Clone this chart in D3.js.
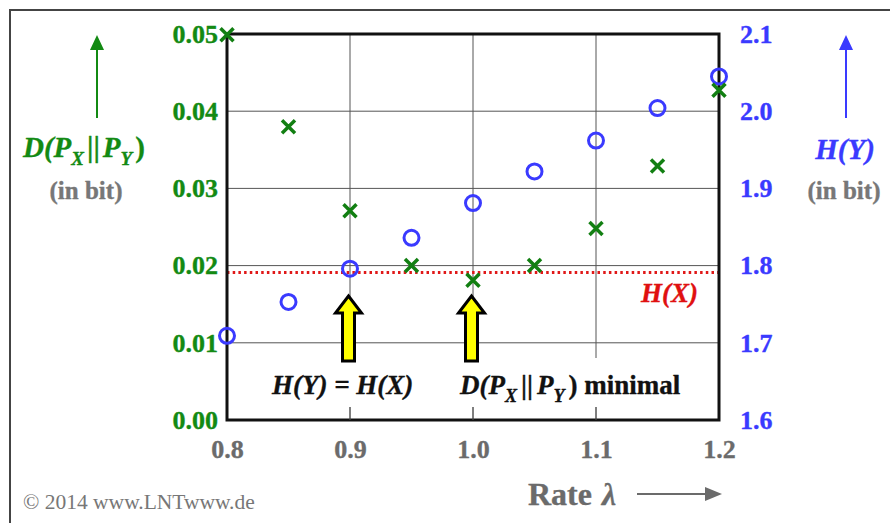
<!DOCTYPE html>
<html><head><meta charset="utf-8">
<script src="https://cdn.jsdelivr.net/npm/d3@7"></script>
<style>body{margin:0;background:#fff}svg{display:block}text{font-family:"Liberation Serif","Times New Roman",serif;font-weight:bold}</style>
</head><body><svg id="c" width="890" height="523"></svg>
<script>
const rates = [0.8, 0.85, 0.9, 0.95, 1.0, 1.05, 1.1, 1.15, 1.2];
const entropyY = [1.709, 1.753, 1.796, 1.836, 1.881, 1.922, 1.962, 2.004, 2.045];
const divergence = [0.0499, 0.038, 0.0271, 0.0200, 0.0181, 0.0200, 0.0248, 0.0329, 0.0427];
const entropyX = 1.791;
const xTicks = [0.8, 0.9, 1.0, 1.1, 1.2];
const leftTicks = [0, 0.01, 0.02, 0.03, 0.04, 0.05];
const rightTicks = [1.6, 1.7, 1.8, 1.9, 2.0, 2.1];
const arrowRates = [0.9, 1.0];

const svg = d3.select("#c");
const L = 227, R = 719, T = 34, B = 420;
const x = d3.scaleLinear().domain([0.8, 1.2]).range([L, R]);
const yL = d3.scaleLinear().domain([0, 0.05]).range([B, T]);
const yR = d3.scaleLinear().domain([1.6, 2.1]).range([B, T]);

const green = "#138a13", blue = "#3a3aff", gray = "#6b6b6b";
const bold = (sel, col, w) => sel.attr("fill", col).attr("stroke", col).attr("stroke-width", w || 0.35).attr("stroke-linejoin", "round");

// outer frame
svg.append("rect").attr("x", 10).attr("y", 10).attr("width", 900).attr("height", 540)
  .attr("fill", "none").attr("stroke", "#444").attr("stroke-width", 2);

// gridlines
const grid = svg.append("g").attr("stroke", "#555").attr("stroke-width", 1);
grid.selectAll(".gx").data(xTicks.slice(1, -1)).join("line")
  .attr("x1", d => x(d)).attr("x2", d => x(d)).attr("y1", T).attr("y2", B);
grid.selectAll(".gy").data(leftTicks.slice(1, -1)).join("line")
  .attr("y1", d => yL(d)).attr("y2", d => yL(d)).attr("x1", L).attr("x2", R);

// white band behind annotation
svg.append("rect").attr("x", L + 2).attr("y", 358).attr("width", R - L - 4).attr("height", 49).attr("fill", "#fff");

// H(X) dotted line
svg.append("line").attr("x1", L).attr("x2", R).attr("y1", yR(entropyX)).attr("y2", yR(entropyX))
  .attr("stroke", "#e01818").attr("stroke-width", 3).attr("stroke-dasharray", "2.5,3.2");

// plot border
svg.append("rect").attr("x", L).attr("y", T).attr("width", R - L).attr("height", B - T)
  .attr("fill", "none").attr("stroke", "#111").attr("stroke-width", 3);

// axes labels
const fs = 26;
const axL = svg.append("g").attr("transform", `translate(${L},0)`)
  .call(d3.axisLeft(yL).tickValues(leftTicks).tickSize(0).tickPadding(9).tickFormat(d3.format(".2f")));
const axR = svg.append("g").attr("transform", `translate(${R},0)`)
  .call(d3.axisRight(yR).tickValues(rightTicks).tickSize(0).tickPadding(21).tickFormat(d3.format(".1f")));
const axB = svg.append("g").attr("transform", `translate(0,${B})`)
  .call(d3.axisBottom(x).tickValues(xTicks).tickSize(0).tickPadding(20).tickFormat(d3.format(".1f")));
[axL, axR, axB].forEach(a => { a.select(".domain").remove(); a.selectAll("text").style("font-size", fs + "px").style("font-family", "Liberation Serif").style("font-weight", "bold"); });
bold(axL.selectAll("text"), green);
bold(axR.selectAll("text"), blue);
bold(axB.selectAll("text"), gray);

// circles H(Y)
svg.append("g").selectAll("circle").data(rates).join("circle")
  .attr("cx", d => x(d)).attr("cy", (d, i) => yR(entropyY[i])).attr("r", 7.5)
  .attr("fill", "none").attr("stroke", blue).attr("stroke-width", 3);

// crosses D
const cs = 6.5;
svg.append("g").selectAll("path").data(rates).join("path")
  .attr("d", (d, i) => { const cx = x(d), cy = yL(divergence[i]); return `M${cx-cs},${cy-cs}L${cx+cs},${cy+cs}M${cx-cs},${cy+cs}L${cx+cs},${cy-cs}`; })
  .attr("stroke", "#127f12").attr("stroke-width", 3.5).attr("fill", "none");

// yellow arrows
svg.append("g").selectAll("path").data(arrowRates).join("path")
  .attr("d", d => { const c = x(d) - 1.5; return `M${c},296L${c+13},313L${c+6},313L${c+6},361L${c-6},361L${c-6},313L${c-13},313Z`; })
  .attr("fill", "#ffff00").attr("stroke", "#000").attr("stroke-width", 3).attr("stroke-linejoin", "miter");

// tick stubs at bottom
svg.append("g").attr("stroke", "#555").selectAll("line").data(xTicks.slice(1, -1)).join("line")
  .attr("x1", d => x(d)).attr("x2", d => x(d)).attr("y1", 407).attr("y2", B);

// annotation texts
const ann = svg.append("g").style("font-size", "27px");
bold(ann.append("text").attr("x", 272).attr("y", 394).style("font-style", "italic").text("H(Y) = H(X)"), "#111");
const t2 = bold(ann.append("text").attr("x", 460).attr("y", 394), "#111");
t2.append("tspan").style("font-style", "italic").text("D(P");
t2.append("tspan").style("font-style", "italic").style("font-size", "18px").attr("dy", 8).text("X");
t2.append("tspan").attr("dy", -8).attr("dx", 4).text("||");
t2.append("tspan").style("font-style", "italic").attr("dx", 4).text("P");
t2.append("tspan").style("font-style", "italic").style("font-size", "18px").attr("dy", 8).text("Y");
t2.append("tspan").attr("dy", -8).attr("dx", 4).text(") minimal");

// H(X) label
bold(svg.append("text").attr("x", 698).attr("y", 302).attr("text-anchor", "end")
  .style("font-size", "27px").style("font-style", "italic").text("H(X)"), "#e01010");

// vertical arrows for axis titles
const arrowUp = (cx, col) => {
  svg.append("line").attr("x1", cx).attr("x2", cx).attr("y1", 48).attr("y2", 118).attr("stroke", col).attr("stroke-width", 2);
  svg.append("path").attr("d", `M${cx},35L${cx+7},50L${cx-7},50Z`).attr("fill", col);
};
arrowUp(97, green);
arrowUp(846, blue);
const lt = bold(svg.append("text").attr("x", 23).attr("y", 157).style("font-size", "29px"), green);
lt.append("tspan").style("font-style", "italic").text("D(P");
lt.append("tspan").style("font-style", "italic").style("font-size", "19px").attr("dy", 8).text("X");
lt.append("tspan").attr("dy", -8).attr("dx", 3).text("||");
lt.append("tspan").style("font-style", "italic").attr("dx", 3).text("P");
lt.append("tspan").style("font-style", "italic").style("font-size", "19px").attr("dy", 8).text("Y");
lt.append("tspan").attr("dy", -8).attr("dx", 3).text(")");
bold(svg.append("text").attr("x", 86).attr("y", 199).attr("text-anchor", "middle").style("font-size", "25px").text("(in bit)"), "#777");
bold(svg.append("text").attr("x", 845).attr("y", 159).attr("text-anchor", "middle").style("font-size", "29px").style("font-style", "italic").text("H(Y)"), blue);
bold(svg.append("text").attr("x", 844).attr("y", 199).attr("text-anchor", "middle").style("font-size", "25px").text("(in bit)"), "#777");

// x axis title
const xt = bold(svg.append("text").attr("x", 528).attr("y", 505).style("font-size", "32px"), gray);
xt.append("tspan").text("Rate");
xt.append("tspan").style("font-style", "italic").attr("dx", 10).text("λ");
svg.append("line").attr("x1", 637).attr("x2", 708).attr("y1", 494).attr("y2", 494).attr("stroke", gray).attr("stroke-width", 2);
svg.append("path").attr("d", "M722,494L705,487L705,501Z").attr("fill", gray);

// copyright
svg.append("text").attr("x", 23).attr("y", 509).attr("fill", "#777").style("font-size", "21.5px").style("font-weight", "normal").text("© 2014 www.LNTwww.de");
</script></body></html>
